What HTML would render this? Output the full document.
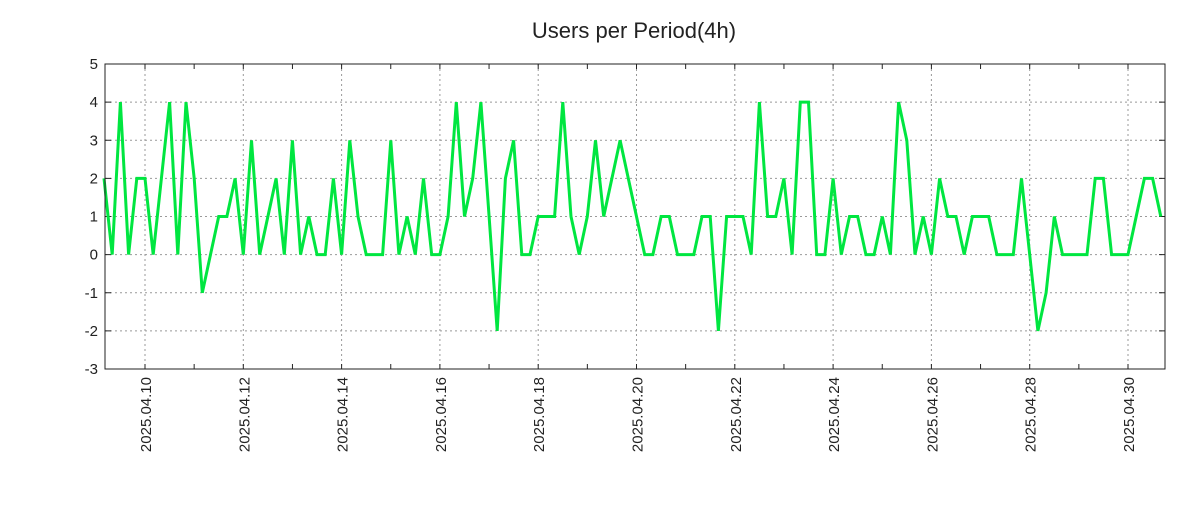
<!DOCTYPE html>
<html><head><meta charset="utf-8"><style>
body{margin:0;background:#fff;width:1200px;height:500px;overflow:hidden}
svg{font-family:"Liberation Sans","DejaVu Sans",sans-serif}
</style></head><body>
<svg id="chart" width="1200" height="500" xmlns="http://www.w3.org/2000/svg">
<text x="634" y="38" font-size="22" text-anchor="middle" fill="#222">Users per Period(4h)</text>
<g id="grid"></g><g id="axes"></g><g id="series"></g>
<rect x="105" y="64" width="1060" height="305" fill="none" stroke="#222" stroke-width="1"/>
</svg>
<script>
const values=[2,0,4,0,2,2,0,2,4,0,4,2,-1,0,1,1,2,0,3,0,1,2,0,3,0,1,0,0,2,0,3,1,0,0,0,3,0,1,0,2,0,0,1,4,1,2,4,1,-2,2,3,0,0,1,1,1,4,1,0,1,3,1,2,3,2,1,0,0,1,1,0,0,0,1,1,-2,1,1,1,0,4,1,1,2,0,4,4,0,0,2,0,1,1,0,0,1,0,4,3,0,1,0,2,1,1,0,1,1,1,0,0,0,2,0,-2,-1,1,0,0,0,0,2,2,0,0,0,1,2,2,1];
const yTicks=[5,4,3,2,1,0,-1,-2,-3];
const dateLabels=["2025.04.10","2025.04.12","2025.04.14","2025.04.16","2025.04.18","2025.04.20","2025.04.22","2025.04.24","2025.04.26","2025.04.28","2025.04.30"];
const startHour=4, stepHours=4;
const L=105,R=1165,T=64,B=369;
const y=v=>T+(5-v)*(B-T)/8;
const x=h=>145+(h-24)*(49.15/24);
const NS="http://www.w3.org/2000/svg";
function mk(tag,parent,attrs){const e=document.createElementNS(NS,tag);for(const k in attrs)e.setAttribute(k,attrs[k]);parent.appendChild(e);return e;}
const grid=document.getElementById('grid'),axes=document.getElementById('axes'),series=document.getElementById('series');
yTicks.forEach(v=>{
  const yy=y(v);
  if(v<5&&v>-3){const g=mk('line',grid,{x1:L,x2:R,y1:yy,y2:yy,stroke:'#999','stroke-dasharray':'2,3'});
  
  }
  mk('line',axes,{x1:L,x2:L+6,y1:yy,y2:yy,stroke:'#222'});
  mk('line',axes,{x1:R-6,x2:R,y1:yy,y2:yy,stroke:'#222'});
  const t=mk('text',axes,{x:98,y:yy+5,'font-size':15,'text-anchor':'end',fill:'#222'});
  t.textContent=v;
  
  
});
for(let d=0;d<=22;d++){
  const xx=x(24*(d+1));
  if(xx<L||xx>R)continue;
  mk('line',axes,{x1:xx,x2:xx,y1:B,y2:B-5,stroke:'#222'});
  mk('line',axes,{x1:xx,x2:xx,y1:T,y2:T+5,stroke:'#222'});
}
dateLabels.forEach((lab,i)=>{
  const xx=x(24+48*i);
  const g=mk('line',grid,{x1:xx,x2:xx,y1:T,y2:B,stroke:'#999','stroke-dasharray':'2,3'});
  
  
  const t=mk('text',axes,{x:0,y:0,'font-size':15,'text-anchor':'end',fill:'#222',transform:`translate(${xx+6},377) rotate(-90)`});
  t.textContent=lab;
  
  
});
const pts=values.map((v,i)=>x(startHour+stepHours*i).toFixed(1)+','+y(v).toFixed(1)).join(' ');
const line=mk('polyline',series,{points:pts,fill:'none',stroke:'#00e640','stroke-width':3,'stroke-linejoin':'miter'});


</script>
</body></html>
